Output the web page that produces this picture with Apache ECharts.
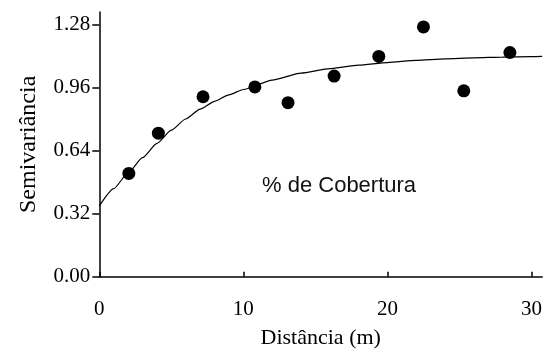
<!DOCTYPE html>
<html>
<head>
<meta charset="utf-8">
<script src="https://cdn.jsdelivr.net/npm/echarts@6/dist/echarts.min.js"></script>
<style>
html,body{margin:0;padding:0;background:#fff;}
#chart{width:545px;height:360px;}
</style>
</head>
<body>
<div id="chart"></div>
<script>
// Observed semivariance points
var pointX = [2.05, 4.1, 7.2, 10.8, 13.1, 16.3, 19.4, 22.5, 25.3, 28.5];
var pointY = [0.525, 0.73, 0.915, 0.965, 0.885, 1.02, 1.12, 1.27, 0.945, 1.14];
// Fitted model curve
var curveX = [0, 1, 2, 3, 4, 5, 6, 7, 8, 9, 10, 12, 14, 16, 18, 20, 22, 24, 26, 28, 30, 30.74];
var curveY = [0.36, 0.448, 0.528, 0.605, 0.678, 0.745, 0.802, 0.852, 0.892, 0.925, 0.952, 1.0, 1.035, 1.058, 1.076, 1.089, 1.1, 1.108, 1.113, 1.117, 1.119, 1.12];
// Tick labels
var xTicks = [0, 10, 20, 30];
var yTicks = [0, 0.32, 0.64, 0.96, 1.28];
var xName = 'Distância (m)';
var yName = 'Semivariância';
var annotation = '% de Cobertura';

var chart = echarts.init(document.getElementById('chart'), null, {renderer: 'canvas'});
var serif = '"Liberation Serif", "Times New Roman", serif';
var axisLineStyle = {color: '#000', width: 1.5};

chart.setOption({
  animation: false,
  backgroundColor: '#fff',
  grid: {left: 99.3, right: 0, top: 12, bottom: 83.3, containLabel: false},
  xAxis: {
    type: 'value',
    min: 0,
    max: 30.74,
    interval: 10,
    name: xName,
    nameLocation: 'middle',
    nameGap: 51,
    nameTextStyle: {fontFamily: serif, fontSize: 22, color: '#000'},
    axisLine: {show: true, lineStyle: axisLineStyle},
    axisTick: {show: true, inside: true, length: 5, lineStyle: axisLineStyle, customValues: xTicks},
    axisLabel: {
      show: true, margin: 22, fontFamily: serif, fontSize: 21, color: '#000',
      customValues: xTicks,
      formatter: function (v) { return String(v); }
    },
    splitLine: {show: false}
  },
  yAxis: {
    type: 'value',
    min: 0,
    max: 1.346,
    interval: 0.32,
    name: yName,
    nameLocation: 'middle',
    nameGap: 59,
    nameRotate: 90,
    nameTextStyle: {fontFamily: serif, fontSize: 24, color: '#000'},
    axisLine: {show: true, lineStyle: axisLineStyle},
    axisTick: {show: true, inside: false, length: 7, lineStyle: axisLineStyle, customValues: yTicks},
    axisLabel: {
      show: true, margin: 9, fontFamily: serif, fontSize: 21, color: '#000',
      padding: [4, 0, 0, 0],
      customValues: yTicks,
      formatter: function (v) { return v.toFixed(2); }
    },
    splitLine: {show: false}
  },
  graphic: [{
    type: 'text',
    left: 262,
    top: 175,
    style: {
      text: annotation,
      font: '22px "Liberation Sans", Arial, sans-serif',
      fill: '#111'
    }
  }],
  series: [
    {
      type: 'line',
      data: curveX.map(function (x, i) { return [x, curveY[i]]; }),
      showSymbol: false,
      smooth: 0.2,
      smoothMonotone: 'x',
      lineStyle: {color: '#000', width: 1.2},
      silent: true,
      z: 2
    },
    {
      type: 'scatter',
      data: pointX.map(function (x, i) { return [x, pointY[i]]; }),
      symbol: 'circle',
      symbolSize: 13,
      itemStyle: {color: '#000', opacity: 1},
      z: 3
    }
  ]
});
</script>
</body>
</html>
